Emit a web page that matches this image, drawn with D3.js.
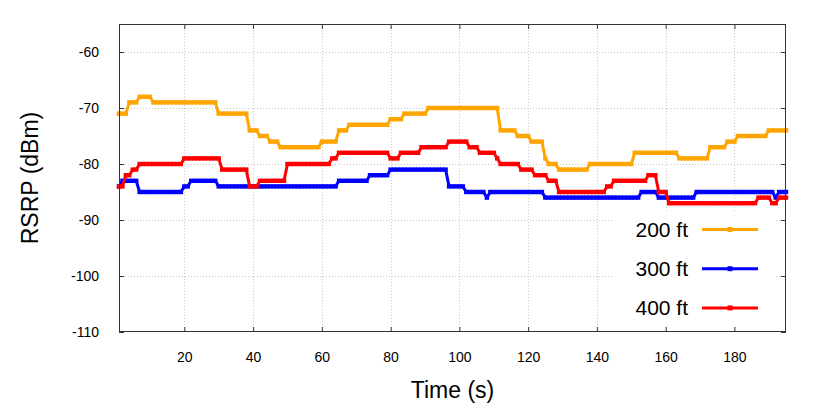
<!DOCTYPE html>
<html>
<head>
<meta charset="utf-8">
<script src="https://cdn.jsdelivr.net/npm/d3@7"></script>
<style>
  html, body { margin: 0; padding: 0; background: #fff; }
  svg { display: block; font-family: "Liberation Sans", Arial, Helvetica, sans-serif; }
</style>
</head>
<body>
<svg id="chart" width="830" height="410"></svg>
<script>
// ---- data (RSRP in dBm, one sample per second, t = 1..195) ----
const seriesNames = ["200 ft", "300 ft", "400 ft"];
const seriesColors = ["#FFA500", "#0000FF", "#FF0000"];
const xTicks = [20, 40, 60, 80, 100, 120, 140, 160, 180];
const yTicks = [-60, -70, -80, -90, -100, -110];
const xDomain = [1, 195];
const yDomain = [-110, -55];

const rsrp200 = [
  -71,-71,-71,-69,-69,-69,-68,-68,-68,-68,
  -69,-69,-69,-69,-69,-69,-69,-69,-69,-69,
  -69,-69,-69,-69,-69,-69,-69,-69,-69,-71,
  -71,-71,-71,-71,-71,-71,-71,-71,-74,-74,
  -74,-75,-75,-75,-76,-76,-76,-77,-77,-77,
  -77,-77,-77,-77,-77,-77,-77,-77,-77,-76,
  -76,-76,-76,-76,-74,-74,-74,-73,-73,-73,
  -73,-73,-73,-73,-73,-73,-73,-73,-73,-72,
  -72,-72,-72,-71,-71,-71,-71,-71,-71,-71,
  -70,-70,-70,-70,-70,-70,-70,-70,-70,-70,
  -70,-70,-70,-70,-70,-70,-70,-70,-70,-70,
  -70,-74,-74,-74,-74,-74,-75,-75,-75,-75,
  -76,-76,-76,-76,-79,-80,-80,-80,-81,-81,
  -81,-81,-81,-81,-81,-81,-81,-80,-80,-80,
  -80,-80,-80,-80,-80,-80,-80,-80,-80,-80,
  -78,-78,-78,-78,-78,-78,-78,-78,-78,-78,
  -78,-78,-78,-79,-79,-79,-79,-79,-79,-79,
  -79,-79,-77,-77,-77,-77,-77,-76,-76,-76,
  -75,-75,-75,-75,-75,-75,-75,-75,-75,-74,
  -74,-74,-74,-74,-74
];

const rsrp300 = [
  -84,-83,-83,-83,-83,-83,-85,-85,-85,-85,
  -85,-85,-85,-85,-85,-85,-85,-85,-85,-84,
  -84,-83,-83,-83,-83,-83,-83,-83,-83,-84,
  -84,-84,-84,-84,-84,-84,-84,-84,-84,-84,
  -84,-84,-84,-84,-84,-84,-84,-84,-84,-84,
  -84,-84,-84,-84,-84,-84,-84,-84,-84,-84,
  -84,-84,-84,-84,-83,-83,-83,-83,-83,-83,
  -83,-83,-83,-82,-82,-82,-82,-82,-82,-81,
  -81,-81,-81,-81,-81,-81,-81,-81,-81,-81,
  -81,-81,-81,-81,-81,-81,-84,-84,-84,-84,
  -84,-85,-85,-85,-85,-85,-85,-86,-85,-85,
  -85,-85,-85,-85,-85,-85,-85,-85,-85,-85,
  -85,-85,-85,-85,-86,-86,-86,-86,-86,-86,
  -86,-86,-86,-86,-86,-86,-86,-86,-86,-86,
  -86,-86,-86,-86,-86,-86,-86,-86,-86,-86,
  -86,-86,-85,-85,-85,-85,-85,-86,-86,-86,
  -86,-86,-86,-86,-86,-86,-86,-86,-85,-85,
  -85,-85,-85,-85,-85,-85,-85,-85,-85,-85,
  -85,-85,-85,-85,-85,-85,-85,-85,-85,-85,
  -85,-86,-85,-85,-85
];

const rsrp400 = [
  -84,-84,-82,-82,-81,-81,-80,-80,-80,-80,
  -80,-80,-80,-80,-80,-80,-80,-80,-80,-79,
  -79,-79,-79,-79,-79,-79,-79,-79,-79,-79,
  -81,-81,-81,-81,-81,-81,-81,-81,-84,-84,
  -84,-83,-83,-83,-83,-83,-83,-83,-83,-80,
  -80,-80,-80,-80,-80,-80,-80,-80,-80,-80,
  -80,-80,-79,-79,-78,-78,-78,-78,-78,-78,
  -78,-78,-78,-78,-78,-78,-78,-78,-78,-79,
  -79,-79,-78,-78,-78,-78,-78,-78,-77,-77,
  -77,-77,-77,-77,-77,-77,-76,-76,-76,-76,
  -76,-76,-77,-77,-77,-78,-78,-78,-78,-78,
  -79,-80,-80,-80,-80,-80,-80,-81,-81,-81,
  -81,-82,-82,-82,-82,-83,-83,-83,-85,-85,
  -85,-85,-85,-85,-85,-85,-85,-85,-85,-85,
  -85,-85,-84,-84,-83,-83,-83,-83,-83,-83,
  -83,-83,-83,-83,-82,-82,-82,-85,-85,-85,
  -87,-87,-87,-87,-87,-87,-87,-87,-87,-87,
  -87,-87,-87,-87,-87,-87,-87,-87,-87,-87,
  -87,-87,-87,-87,-87,-87,-86,-86,-86,-86,
  -87,-87,-86,-86,-86
];

const seriesValues = [rsrp200, rsrp300, rsrp400];

// ---- layout ----
const W = 830, H = 410;
const M = { left: 119, right: 830 - 786, top: 24, bottom: 410 - 332 };
const iw = W - M.left - M.right, ih = H - M.top - M.bottom;

const svg = d3.select("#chart");
const x = d3.scaleLinear().domain(xDomain).range([M.left, M.left + iw]);
const y = d3.scaleLinear().domain(yDomain).range([M.top + ih, M.top]);

const border = "#333";
const fmt = d => String(d);

// grid
const grid = svg.append("g");
grid.selectAll("line.gx").data(xTicks).join("line")
  .attr("x1", d => Math.round(x(d)) + 0.5).attr("x2", d => Math.round(x(d)) + 0.5)
  .attr("y1", M.top).attr("y2", M.top + ih)
  .attr("stroke", "#c8c8c8").attr("stroke-width", 1).attr("stroke-dasharray", "1,2");
grid.selectAll("line.gy").data(yTicks.filter(d => d > yDomain[0])).join("line")
  .attr("y1", d => Math.round(y(d)) + 0.5).attr("y2", d => Math.round(y(d)) + 0.5)
  .attr("x1", M.left).attr("x2", M.left + iw)
  .attr("stroke", "#c8c8c8").attr("stroke-width", 1).attr("stroke-dasharray", "1,2");

// axes (gnuplot-like inward ticks, mirrored)
const axB = svg.append("g").attr("transform", `translate(0,${M.top + ih})`)
  .call(d3.axisBottom(x).tickValues(xTicks).tickSize(-5).tickPadding(20).tickFormat(fmt));
const axT = svg.append("g").attr("transform", `translate(0,${M.top})`)
  .call(d3.axisTop(x).tickValues(xTicks).tickSize(-5).tickFormat(""));
const axL = svg.append("g").attr("transform", `translate(${M.left},0)`)
  .call(d3.axisLeft(y).tickValues(yTicks).tickSize(-5).tickPadding(20).tickFormat(fmt));
const axR = svg.append("g").attr("transform", `translate(${M.left + iw},0)`)
  .call(d3.axisRight(y).tickValues(yTicks).tickSize(-5).tickFormat(""));
[axB, axT, axL, axR].forEach(a => {
  a.select(".domain").remove();
  a.selectAll(".tick line").attr("stroke", border);
  a.selectAll(".tick text").attr("fill", "#000").attr("font-size", 14)
    .attr("font-family", "'Liberation Sans', Arial, sans-serif");
});
axL.selectAll(".tick text").attr("dy", "0.35em");

// data lines
const idx = d3.range(xDomain[0], xDomain[1] + 1);
const line = d3.line().x(d => x(d[0])).y(d => y(d[1]));
const plot = svg.append("g");
seriesValues.forEach((vals, si) => {
  const pts = vals.map((v, i) => [idx[i], v]);
  const g = plot.append("g");
  g.append("path").datum(pts).attr("d", line)
    .attr("fill", "none").attr("stroke", seriesColors[si]).attr("stroke-width", 3)
    .attr("stroke-linejoin", "round");
  g.selectAll("rect").data(pts).join("rect")
    .attr("x", d => x(d[0]) - 2.2).attr("y", d => y(d[1]) - 2.2)
    .attr("width", 4.4).attr("height", 4.4).attr("fill", seriesColors[si]);
});

// border
svg.append("rect").attr("x", M.left + 0.5).attr("y", M.top + 0.5)
  .attr("width", iw - 1).attr("height", ih - 1)
  .attr("fill", "none").attr("stroke", border).attr("stroke-width", 1);

// legend (opaque)
const leg = svg.append("g");
leg.append("rect").attr("x", 612).attr("y", 211).attr("width", 164).attr("height", 115).attr("fill", "#fff");
seriesNames.forEach((name, i) => {
  const cy = 229.5 + i * 39.2;
  leg.append("text").attr("x", 688).attr("y", cy).attr("dy", "0.36em")
    .attr("text-anchor", "end").attr("font-size", 21).attr("fill", "#000").text(name);
  leg.append("line").attr("x1", 702).attr("x2", 758).attr("y1", cy).attr("y2", cy)
    .attr("stroke", seriesColors[i]).attr("stroke-width", 3);
  leg.append("rect").attr("x", 730 - 2.5).attr("y", cy - 2.5).attr("width", 5).attr("height", 5)
    .attr("fill", seriesColors[i]);
});

// axis titles
svg.append("text").attr("x", (M.left + M.left + iw) / 2).attr("y", 398)
  .attr("text-anchor", "middle").attr("font-size", 23).attr("fill", "#000").text("Time (s)");
svg.append("text").attr("transform", `translate(38,${M.top + ih / 2}) rotate(-90)`)
  .attr("text-anchor", "middle").attr("font-size", 23).attr("fill", "#000").text("RSRP (dBm)");
</script>
</body>
</html>
